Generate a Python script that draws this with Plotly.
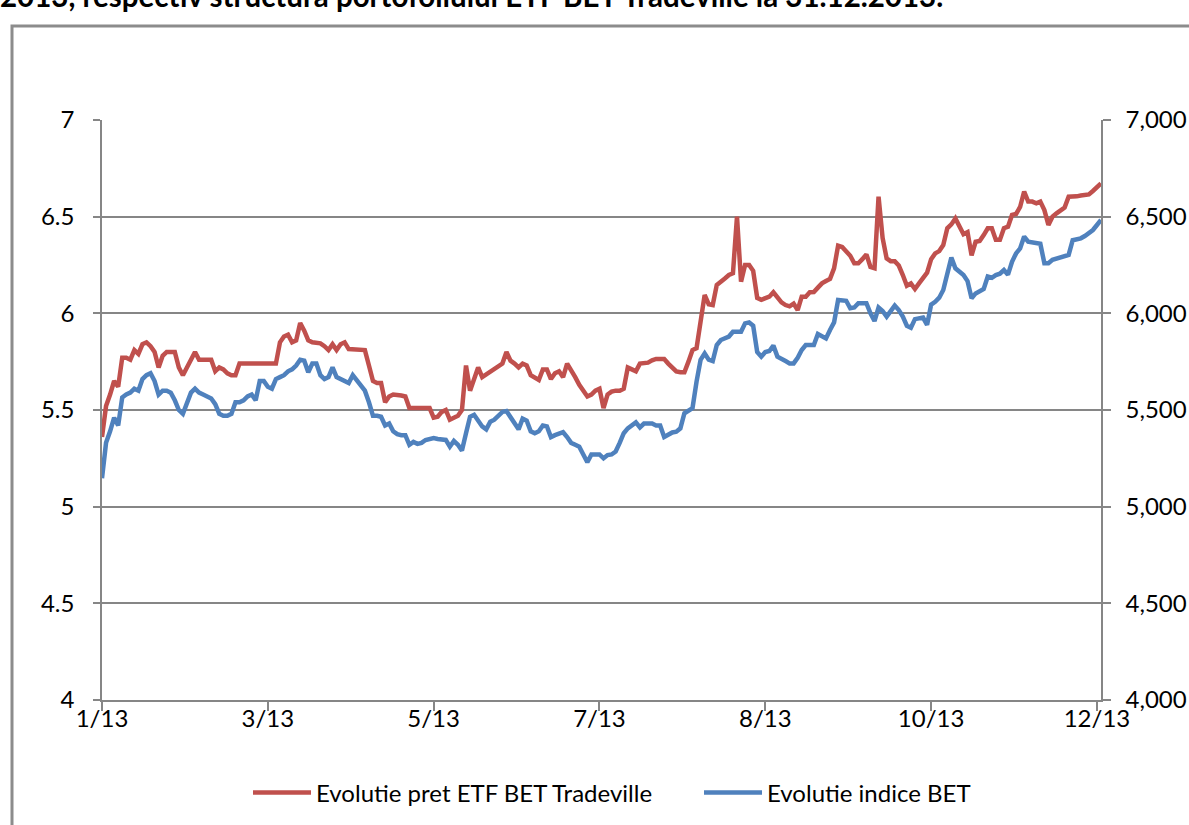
import plotly.graph_objects as go

# x-axis: trading-day index with Excel-style category labels
tick_positions = [0, 41, 82, 123, 164, 205, 246]
tick_labels = ["1/13", "3/13", "5/13", "7/13", "8/13", "10/13", "12/13"]

# ETF BET Tradeville price (left axis)
etf_price = [
    5.36, 5.52, 5.58, 5.65, 5.62, 5.77, 5.77, 5.76, 5.81, 5.79,
    5.84, 5.85, 5.83, 5.80, 5.72, 5.78, 5.80, 5.80, 5.80, 5.72,
    5.68, 5.72, 5.76, 5.80, 5.76, 5.76, 5.76, 5.76, 5.70, 5.72,
    5.71, 5.69, 5.68, 5.68, 5.74, 5.74, 5.74, 5.74, 5.74, 5.74,
    5.74, 5.74, 5.74, 5.74, 5.85, 5.88, 5.89, 5.85, 5.86, 5.95,
    5.91, 5.86, 5.85, 5.85, 5.845, 5.83, 5.81, 5.84, 5.81, 5.84,
    5.85, 5.815, 5.815, 5.815, 5.815, 5.81, 5.73, 5.65, 5.64, 5.64,
    5.54, 5.57, 5.58, 5.58, 5.575, 5.57, 5.51, 5.51, 5.51, 5.51,
    5.51, 5.51, 5.46, 5.465, 5.49, 5.50, 5.45, 5.457, 5.47, 5.50,
    5.73, 5.60, 5.66, 5.72, 5.67, 5.685, 5.695, 5.71, 5.73, 5.74,
    5.80, 5.755, 5.74, 5.72, 5.74, 5.73, 5.68, 5.665, 5.655, 5.71,
    5.71, 5.66, 5.69, 5.70, 5.67, 5.74, 5.71, 5.67, 5.63, 5.595,
    5.57, 5.58, 5.60, 5.61, 5.51, 5.58, 5.595, 5.60, 5.60, 5.61,
    5.72, 5.71, 5.70, 5.74, 5.74, 5.745, 5.757, 5.764, 5.764, 5.764,
    5.74, 5.72, 5.70, 5.695, 5.695, 5.75, 5.81, 5.82, 5.957, 6.095,
    6.047, 6.043, 6.147, 6.167, 6.18, 6.198, 6.207, 6.50, 6.164, 6.25,
    6.25, 6.22, 6.08, 6.07, 6.08, 6.086, 6.109, 6.086, 6.057, 6.043,
    6.036, 6.05, 6.017, 6.086, 6.086, 6.109, 6.11, 6.133, 6.155, 6.167,
    6.178, 6.233, 6.35, 6.343, 6.322, 6.298, 6.259, 6.259, 6.28, 6.305,
    6.24, 6.233, 6.603, 6.39, 6.284, 6.27, 6.27, 6.247, 6.198, 6.143,
    6.155, 6.126, 6.155, 6.18, 6.21, 6.28, 6.31, 6.322, 6.353, 6.44,
    6.46, 6.491, 6.453, 6.409, 6.42, 6.30, 6.37, 6.374, 6.405, 6.44,
    6.44, 6.38, 6.38, 6.44, 6.448, 6.509, 6.514, 6.55, 6.63, 6.578,
    6.578, 6.569, 6.578, 6.534, 6.457, 6.50, 6.517, 6.533, 6.547, 6.603,
    6.603, 6.605, 6.609, 6.612, 6.615, 6.633, 6.655, 6.672,
]

# BET index (right axis)
bet_index = [
    5147, 5330, 5390, 5460, 5420, 5565, 5580, 5590, 5610, 5600,
    5660, 5680, 5690, 5650, 5580, 5600, 5600, 5590, 5550, 5500,
    5480, 5540, 5590, 5610, 5590, 5580, 5570, 5560, 5530, 5480,
    5470, 5470, 5480, 5540, 5540, 5550, 5570, 5580, 5550, 5650,
    5650, 5620, 5610, 5660, 5670, 5680, 5700, 5710, 5730, 5760,
    5755, 5695, 5740, 5740, 5680, 5660, 5670, 5720, 5670, 5660,
    5650, 5640, 5680, 5655, 5630, 5600, 5540, 5470, 5470, 5465,
    5420, 5430, 5390, 5375, 5370, 5370, 5320, 5335, 5325, 5330,
    5345, 5350, 5355, 5350, 5350, 5345, 5310, 5340, 5320, 5290,
    5380, 5465, 5475, 5440, 5415, 5400, 5440, 5450, 5470, 5490,
    5495, 5465, 5430, 5400, 5455, 5445, 5390, 5380, 5390, 5420,
    5415, 5360, 5370, 5380, 5385, 5360, 5330, 5320, 5310, 5270,
    5230, 5270, 5270, 5270, 5250, 5267, 5270, 5285, 5330, 5380,
    5405, 5420, 5436, 5410, 5430, 5430, 5430, 5420, 5420, 5360,
    5374, 5384, 5388, 5405, 5483, 5500, 5510, 5647, 5760, 5793,
    5760, 5753, 5836, 5862, 5870, 5880, 5905, 5905, 5905, 5948,
    5953, 5936, 5800, 5776, 5800, 5805, 5833, 5776, 5762, 5753,
    5741, 5741, 5770, 5810, 5836, 5836, 5836, 5893, 5883, 5870,
    5914, 5953, 6069, 6069, 6065, 6026, 6030, 6052, 6053, 6052,
    6000, 5960, 6030, 6012, 5983, 6010, 6040, 6017, 5983, 5936,
    5926, 5970, 5974, 5978, 5940, 6045, 6060, 6081, 6121, 6216,
    6288, 6233, 6212, 6198, 6167, 6078, 6103, 6112, 6126, 6190,
    6184, 6198, 6205, 6224, 6200, 6267, 6310, 6336, 6397, 6371,
    6366, 6362, 6360, 6259, 6259, 6277, 6284, 6291, 6297, 6302,
    6378, 6381, 6388, 6400, 6414, 6431, 6457, 6483,
]

day_index = list(range(len(etf_price)))

series_names = ["Evolutie pret ETF BET Tradeville", "Evolutie indice BET"]
header_text = "2013, respectiv structura portofoliului ETF BET Tradeville la 31.12.2013."

GRID = "#868686"
FONT = "Lato, Carlito, 'Liberation Sans', sans-serif"
W, H = 1189, 825
ML, MR, MT, MB = 102, 88, 120, 125
PW, PH = W - ML - MR, H - MT - MB


def px_x(px):
    return (px - ML) / PW


def px_y(py):
    return (H - MB - py) / PH


fig = go.Figure()
fig.add_trace(go.Scatter(
    x=day_index, y=etf_price, mode="lines", name=series_names[0],
    line=dict(color="#C0504D", width=4.5), yaxis="y",
))
fig.add_trace(go.Scatter(
    x=day_index, y=bet_index, mode="lines", name=series_names[1],
    line=dict(color="#4F81BD", width=4.5), yaxis="y2",
))

fig.update_layout(
    width=W, height=H,
    margin=dict(l=ML, r=MR, t=MT, b=MB, autoexpand=False),
    paper_bgcolor="white", plot_bgcolor="white",
    font=dict(family=FONT, size=24, color="#000000"),
    xaxis=dict(
        range=[0, len(etf_price) - 1],
        tickmode="array", tickvals=tick_positions, ticktext=tick_labels,
        showgrid=False, zeroline=False, automargin=False,
        showline=True, linecolor=GRID, linewidth=1.5,
        ticks="outside", ticklen=9, tickcolor=GRID, tickwidth=1.5,
        ticklabelstandoff=-13,
    ),
    yaxis=dict(
        range=[4, 7], tick0=4, dtick=0.5, automargin=False,
        showgrid=True, gridcolor=GRID, gridwidth=1.5, zeroline=False,
        showline=True, linecolor=GRID, linewidth=1.5,
        ticks="outside", ticklen=7, tickcolor=GRID, tickwidth=1.5,
        ticklabelstandoff=14,
    ),
    yaxis2=dict(
        range=[4000, 7000], tick0=4000, dtick=500, tickformat=",",
        overlaying="y", side="right", automargin=False,
        showgrid=False, zeroline=False,
        showline=True, linecolor=GRID, linewidth=1.5,
        ticks="outside", ticklen=8, tickcolor=GRID, tickwidth=1.5,
        ticklabelstandoff=10,
    ),
    legend=dict(
        orientation="h", xanchor="left", yanchor="middle",
        x=px_x(248), y=px_y(793),
        font=dict(family=FONT, size=24),
        itemwidth=58,
        entrywidth=378, entrywidthmode="pixels",
        bgcolor="rgba(0,0,0,0)",
    ),
    showlegend=True,
    shapes=[dict(
        type="rect", xref="paper", yref="paper",
        x0=px_x(12), x1=px_x(1250), y0=px_y(870), y1=px_y(26),
        line=dict(color="#8C8C8C", width=3), fillcolor="rgba(0,0,0,0)",
        layer="below",
    )],
    annotations=[dict(
        text=header_text, xref="paper", yref="paper",
        x=px_x(-2), y=px_y(-5), xanchor="left", yanchor="middle",
        showarrow=False, font=dict(family=FONT, size=29.5, color="#000000", weight="bold"),
    )],
)

fig.write_html(
    "out.html",
    config={"displayModeBar": False},
    post_script="document.body.style.margin='0';document.body.style.overflow='hidden';",
)
